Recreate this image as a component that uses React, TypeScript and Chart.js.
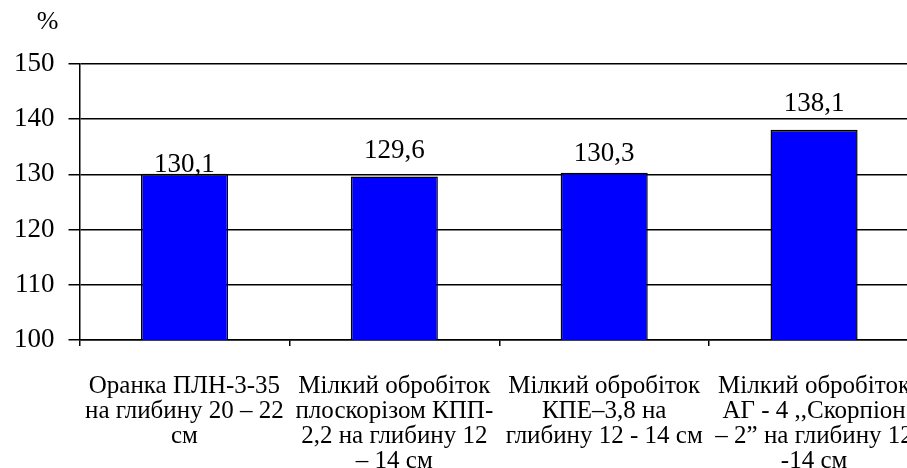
import React, { useEffect, useRef } from "react";
import { Chart, registerables } from "chart.js";

Chart.register(...registerables);

const categories: string[][] = [
  ["Оранка ПЛН-3-35", "на глибину 20 – 22", "см"],
  ["Мілкий обробіток", "плоскорізом КПП-", "2,2 на глибину 12", "– 14 см"],
  ["Мілкий обробіток", "КПЕ–3,8 на", "глибину 12 - 14 см"],
  ["Мілкий обробіток", "АГ - 4 ,,Скорпіон", "– 2” на глибину 12", "-14 см"],
];
const values: number[] = [130.1, 129.6, 130.3, 138.1];
const yTicks: number[] = [100, 110, 120, 130, 140, 150];
const unitLabel = "%";

const FONT = "'Liberation Serif', 'Times New Roman', serif";
const labelGaps = [2, 19, 12, 19];

const valueLabelPlugin = {
  id: "valueLabels",
  afterDatasetsDraw(chart: any) {
    const { ctx } = chart;
    const meta = chart.getDatasetMeta(0);
    ctx.save();
    ctx.font = `27px ${FONT}`;
    ctx.fillStyle = "#000";
    ctx.textAlign = "center";
    ctx.textBaseline = "alphabetic";
    meta.data.forEach((bar: any, i: number) => {
      const v = values[i];
      ctx.fillText(v.toFixed(1).replace(".", ","), bar.x, bar.y - labelGaps[i]);
    });
    const area = chart.chartArea;
    ctx.font = `26px ${FONT}`;
    ctx.textBaseline = "middle";
    ctx.fillText(unitLabel, area.left - 32, area.top - 42);
    ctx.restore();
  },
};

export default function App() {
  const ref = useRef<HTMLCanvasElement | null>(null);
  useEffect(() => {
    if (!ref.current) return;
    const chart = new Chart(ref.current, {
      type: "bar",
      data: {
        labels: categories,
        datasets: [
          {
            data: values,
            backgroundColor: "#0000FF",
            borderColor: "#000000",
            borderWidth: 1.5,
            barPercentage: 0.415,
            categoryPercentage: 1,
          },
        ],
      },
      options: {
        animation: false,
        responsive: true,
        maintainAspectRatio: false,
        layout: { padding: { top: 64, right: 6, bottom: 4, left: 0 } },
        plugins: {
          legend: { display: false },
          tooltip: { enabled: false },
        },
        scales: {
          x: {
            afterFit: (axis: any) => {
              axis.paddingLeft = 0;
              axis.paddingRight = 0;
            },
            grid: {
              display: true,
              drawOnChartArea: false,
              drawTicks: true,
              tickLength: 6,
              color: "#000",
              lineWidth: 1.5,
              offset: true,
            },
            border: { display: true, color: "#000", width: 1.5 },
            ticks: {
              color: "#000",
              font: { family: FONT, size: 25, lineHeight: 1.0 },
              padding: 28,
              maxRotation: 0,
              autoSkip: false,
            },
          },
          y: {
            min: 100,
            max: 150,
            afterBuildTicks: (axis: any) => {
              axis.ticks = yTicks.map((v) => ({ value: v }));
            },
            grid: {
              color: "#000",
              lineWidth: 1.5,
              drawTicks: true,
              tickLength: 11,
            },
            border: { display: true, color: "#000", width: 1.5 },
            ticks: {
              color: "#000",
              font: { family: FONT, size: 27 },
              padding: 14,
            },
          },
        },
      },
      plugins: [valueLabelPlugin],
    });
    return () => chart.destroy();
  }, []);
  return (
    <div
      style={{
        position: "absolute",
        left: 0,
        top: 0,
        width: 907,
        height: 468,
        overflow: "hidden",
        background: "#fff",
      }}
    >
      <div style={{ position: "relative", width: 925, height: 506 }}>
        <canvas ref={ref} />
      </div>
    </div>
  );
}
